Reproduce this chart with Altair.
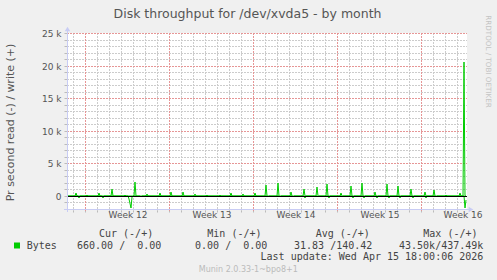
import altair as alt
import pandas as pd

# ---- data (bytes per second, x in days from left edge of graph) ----
write_day = [0.72, 1.7, 2.67, 3.72, 4.8, 5.67, 6.7, 7.75, 8.67, 9.7, 10.7, 11.7,
             12.75, 13.7, 14.7, 15.7, 16.6, 17.6, 18.7, 19.75, 20.8, 21.7, 22.8,
             23.7, 24.6, 25.7, 26.7, 27.6, 28.7, 29.8, 30.6, 31.6, 32.75, 33.08]
write_val = [500, 150, 450, 1100, 200, 2150, 250, 400, 650, 650, 300, 200,
             150, 500, 350, 450, 1750, 1950, 650, 1000, 1450, 1900, 500,
             1600, 2050, 550, 1850, 1550, 1100, 650, 900, 200, 400, 20500]
read_day = [1.0, 3.0, 5.2, 5.3, 5.38, 6.2, 16.75, 17.75, 18.85, 19.85, 20.9,
            21.85, 22.9, 23.85, 24.75, 25.85, 26.85, 27.75, 28.85, 29.9, 30.75,
            33.15, 33.25]
read_val = [250, 250, 400, 1900, 200, 200, 150, 150, 200, 250, 200,
            250, 150, 300, 250, 250, 300, 250, 300, 250, 200,
            1850, 660]
END_DAY = 33.25

week_labels = ["Week 12", "Week 13", "Week 14", "Week 15", "Week 16"]
week_pos = [5.05, 12.05, 19.05, 26.05, 33.0]

# grid positions
x_grid_major = [1.5, 8.5, 15.5, 22.5, 29.5]
x_grid_minor = [0.5 + i for i in range(33) if (0.5 + i) not in x_grid_major]
y_grid_major = [0, 5000, 10000, 15000, 20000, 25000]
y_grid_minor = [v for v in range(-1000, 25001, 1000) if v not in y_grid_major]
y_ticks = list(range(-1000, 25001, 1000))
x_ticks = [0.5 + i for i in range(33)]

legend_headers = ["Cur (-/+)", "Min (-/+)", "Avg (-/+)", "Max (-/+)"]
legend_values = ["660.00 /  0.00", "0.00 /  0.00", "31.83 /140.42", "43.50k/437.49k"]


def build(days, vals, sign, series):
    pts = [(0.0, 0.0)]
    n = len(days)
    for i, (d, v) in enumerate(zip(days, vals)):
        prev = days[i - 1] if i > 0 else None
        nxt = days[i + 1] if i + 1 < n else None
        if prev is None or d - prev > 0.17:
            pts.append((d - 0.085, 0.0))
        pts.append((d, sign * v))
        if (nxt is None and d < END_DAY) or (nxt is not None and nxt - d > 0.17):
            pts.append((d + 0.085, 0.0))
    if pts[-1][0] < END_DAY:
        pts.append((END_DAY, 0.0))
    return pd.DataFrame({"day": [p[0] for p in pts], "value": [p[1] for p in pts],
                         "series": series})


df = pd.concat([build(write_day, write_val, 1, "write"),
                build(read_day, read_val, -1, "read")], ignore_index=True)
df["order"] = range(len(df))

W, H = 400, 176
GREEN = "#00cc00"
MINOR = "#cccccc"
MAJOR = "#e69696"
AXIS_BLUE = "#c8ccf4"
FONT = "DejaVu Sans"
MONO = "DejaVu Sans Mono"

xscale = alt.Scale(domain=[0, 33.333], nice=False, zero=False, round=True)
yscale = alt.Scale(domain=[-2000, 25000], nice=False, zero=False, round=True)

yaxis = alt.Axis(
    values=y_ticks,
    labelExpr="datum.value >= 0 && datum.value % 5000 === 0 ? (datum.value === 0 ? '0\u00a0\u00a0' : (datum.value / 1000) + ' k') : ''",
    grid=False,
    tickColor="#bbbbbb",
    tickSize=3, domain=False, title=None,
    labelFont=FONT, labelFontSize=9, labelColor="#555555", labelPadding=3,
)
xaxis = alt.Axis(
    values=x_ticks,
    labels=False, grid=False,
    tickColor="#bbbbbb",
    tickSize=3, domain=False, title=None,
)


def xgrid(vals, color):
    return alt.Chart(pd.DataFrame({"day": vals})).mark_rule(
        color=color, strokeWidth=1, strokeDash=[2, 1], xOffset=0.5, opacity=1).encode(
        x=alt.X("day:Q", scale=xscale, axis=xaxis), y=alt.value(0), y2=alt.value(H + 2))


def ygrid(vals, color):
    return alt.Chart(pd.DataFrame({"value": vals})).mark_rule(
        color=color, strokeWidth=1, strokeDash=[2, 1], yOffset=0.5, opacity=1).encode(
        y=alt.Y("value:Q", scale=yscale, axis=yaxis), x=alt.value(0), x2=alt.value(W))


grids = [xgrid(x_grid_minor, MINOR), ygrid(y_grid_minor, MINOR),
         xgrid(x_grid_major, MAJOR), ygrid(y_grid_major, MAJOR)]

lines = alt.Chart(df).mark_line(color=GREEN, strokeWidth=1, clip=True, interpolate="linear").encode(
    x=alt.X("day:Q", scale=xscale, axis=xaxis),
    y=alt.Y("value:Q", scale=yscale, axis=yaxis),
    detail="series:N",
    order="order:Q",
)

zero = alt.Chart(alt.Data(values=[{}])).mark_rule(color="#000000", strokeWidth=1.2, yOffset=0.5).encode(
    y=alt.datum(0, scale=yscale, axis=yaxis), x=alt.value(0), x2=alt.value(W))

dummy = alt.Data(values=[{}])

yline = alt.Chart(dummy).mark_rule(color=AXIS_BLUE, strokeWidth=1).encode(
    x=alt.value(0.5), y=alt.value(-5), y2=alt.value(H + 3))
xline = alt.Chart(dummy).mark_rule(color=AXIS_BLUE, strokeWidth=1).encode(
    y=alt.value(H + 0.5), x=alt.value(-3), x2=alt.value(W + 5))
yarrow = alt.Chart(dummy).mark_point(shape="triangle-up", filled=True, color=AXIS_BLUE,
                                     size=30, opacity=1).encode(x=alt.value(0.5), y=alt.value(-4))
xarrow = alt.Chart(dummy).mark_point(shape="triangle-right", filled=True, color=AXIS_BLUE,
                                     size=30, opacity=1).encode(x=alt.value(W + 4), y=alt.value(H + 0.5))

weeks = alt.Chart(pd.DataFrame({"day": week_pos, "label": week_labels})).mark_text(
    font=FONT, fontSize=9, color="#555555", baseline="middle", align="center").encode(
    x=alt.X("day:Q", scale=xscale, axis=xaxis), y=alt.value(182), text="label:N")


def txt(s, x, y, size, color, font=FONT, align="left", angle=0):
    return alt.Chart(alt.Data(values=[{}])).mark_text(
        text=s.replace(" ", "\u00a0"), font=font, fontSize=size, color=color,
        align=align, baseline="middle", angle=angle).encode(x=alt.value(x), y=alt.value(y))


texts = [
    txt("Disk throughput for /dev/xvda5 - by month", 180.5, -19, 12.5, "#555555", align="center"),
    txt("Pr second read (-) / write (+)", -56, 89.5, 11, "#555555", align="center", angle=270),
    txt("RRDTOOL / TOBI OETIKER", 421, 28.5, 7.2, "#c4c4c4", align="center", angle=90),
    txt("Bytes", -40.3, 212.5, 10, "#444444", font=MONO),
    txt("Last update: Wed Apr 15 18:00:06 2026", 416.3, 224, 10, "#444444", font=MONO, align="right"),
    txt("Munin 2.0.33-1~bpo8+1", 181.3, 236.5, 8, "#bbbbbb", align="center"),
]
for h, x in zip(legend_headers, [32, 140.3, 248.7, 356.3]):
    texts.append(txt(h, x, 200.5, 10, "#444444", font=MONO))
for v, x in zip(legend_values, [94.3, 200.3, 305.3, 416.3]):
    texts.append(txt(v, x, 212.5, 10, "#444444", font=MONO, align="right"))

square = alt.Chart(dummy).mark_square(color=GREEN, size=36, filled=True, opacity=1).encode(
    x=alt.value(-50), y=alt.value(212.5))

chart = alt.layer(*grids, lines, zero, yline, xline, yarrow, xarrow, weeks, square, *texts).properties(
    width=W, height=H,
    padding={"left": 67, "top": 33, "right": 30, "bottom": 71},
    autosize="none",
    background="#f0f0f0",
).configure_view(fill="white", stroke=None)

chart.save("out.html", embed_options={"renderer": "svg", "actions": False})
